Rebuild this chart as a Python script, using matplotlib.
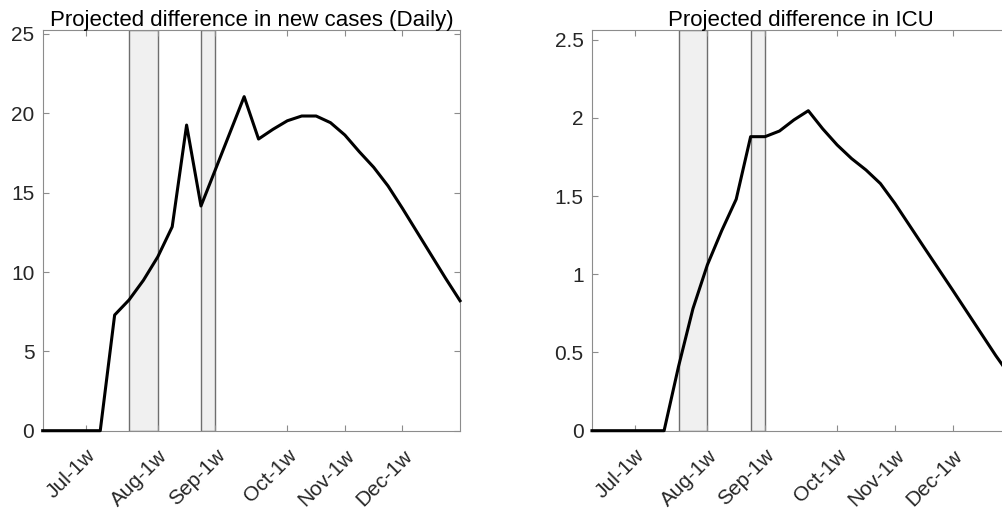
import matplotlib
matplotlib.use("Agg")
import matplotlib.pyplot as plt

plt.rcParams['font.family'] = ['Liberation Sans', 'DejaVu Sans']

# weekly index, 1 = first projected week
weeks = list(range(1, 31))

new_cases = [0, 0, 0, 0, 0, 7.29, 8.24, 9.48, 10.96, 12.85,
             19.26, 14.16, 16.45, 18.75, 21.05, 18.38, 18.99, 19.53, 19.83, 19.83,
             19.41, 18.63, 17.58, 16.6, 15.42, 14.01, 12.54, 11.07, 9.6, 8.19]

icu = [0, 0, 0, 0, 0, 0, 0.41, 0.78, 1.06, 1.28,
       1.48, 1.88, 1.88, 1.916, 1.987, 2.046, 1.93, 1.827, 1.74, 1.667,
       1.58, 1.454, 1.315, 1.176, 1.038, 0.9, 0.76, 0.62, 0.48, 0.35]

tick_weeks = [4, 9, 13, 18, 22, 26]
tick_labels = ['Jul-1w', 'Aug-1w', 'Sep-1w', 'Oct-1w', 'Nov-1w', 'Dec-1w']

# intervention windows (start week, end week)
windows = [(7, 9), (12, 13)]

titles = ['Projected difference in new cases (Daily)', 'Projected difference in ICU']
yticks = [[0, 5, 10, 15, 20, 25], [0, 0.5, 1, 1.5, 2, 2.5]]
ytops = [25.25, 2.562]

txt = '#262626'
spine = '#8c8c8c'

fig = plt.figure(figsize=(10.02, 5.12), dpi=100)
positions = [[0.0426, 0.1588, 0.4165, 0.7826],
             [0.5908, 0.1588, 0.4174, 0.7826]]

for pos, series, title, yt, ytop in zip(positions, [new_cases, icu], titles, yticks, ytops):
    ax = fig.add_axes(pos)
    for a, b in windows:
        ax.axvspan(a, b, facecolor='#f0f0f0', edgecolor='#6e6e6e', linewidth=1.0, zorder=1)
    ax.plot(weeks, series, color='black', linewidth=2.2, zorder=3, clip_on=False)
    ax.set_xlim(1, 30)
    ax.set_ylim(0, ytop)
    ax.set_yticks(yt)
    ax.set_yticklabels([('%g' % v) for v in yt])
    ax.set_xticks(tick_weeks)
    ax.set_xticklabels(tick_labels, rotation=45, ha='right', va='top',
                       rotation_mode='anchor')
    ax.tick_params(direction='in', length=4, width=0.8, color=spine,
                   labelsize=15, labelcolor=txt, top=True, right=True, pad=6)
    ax.tick_params(axis='x', pad=11)
    for s in ax.spines.values():
        s.set_color(spine)
        s.set_linewidth(0.8)
    ax.set_title(title, fontsize=16, color='black', pad=3)

fig.savefig('out.png', dpi=100)
